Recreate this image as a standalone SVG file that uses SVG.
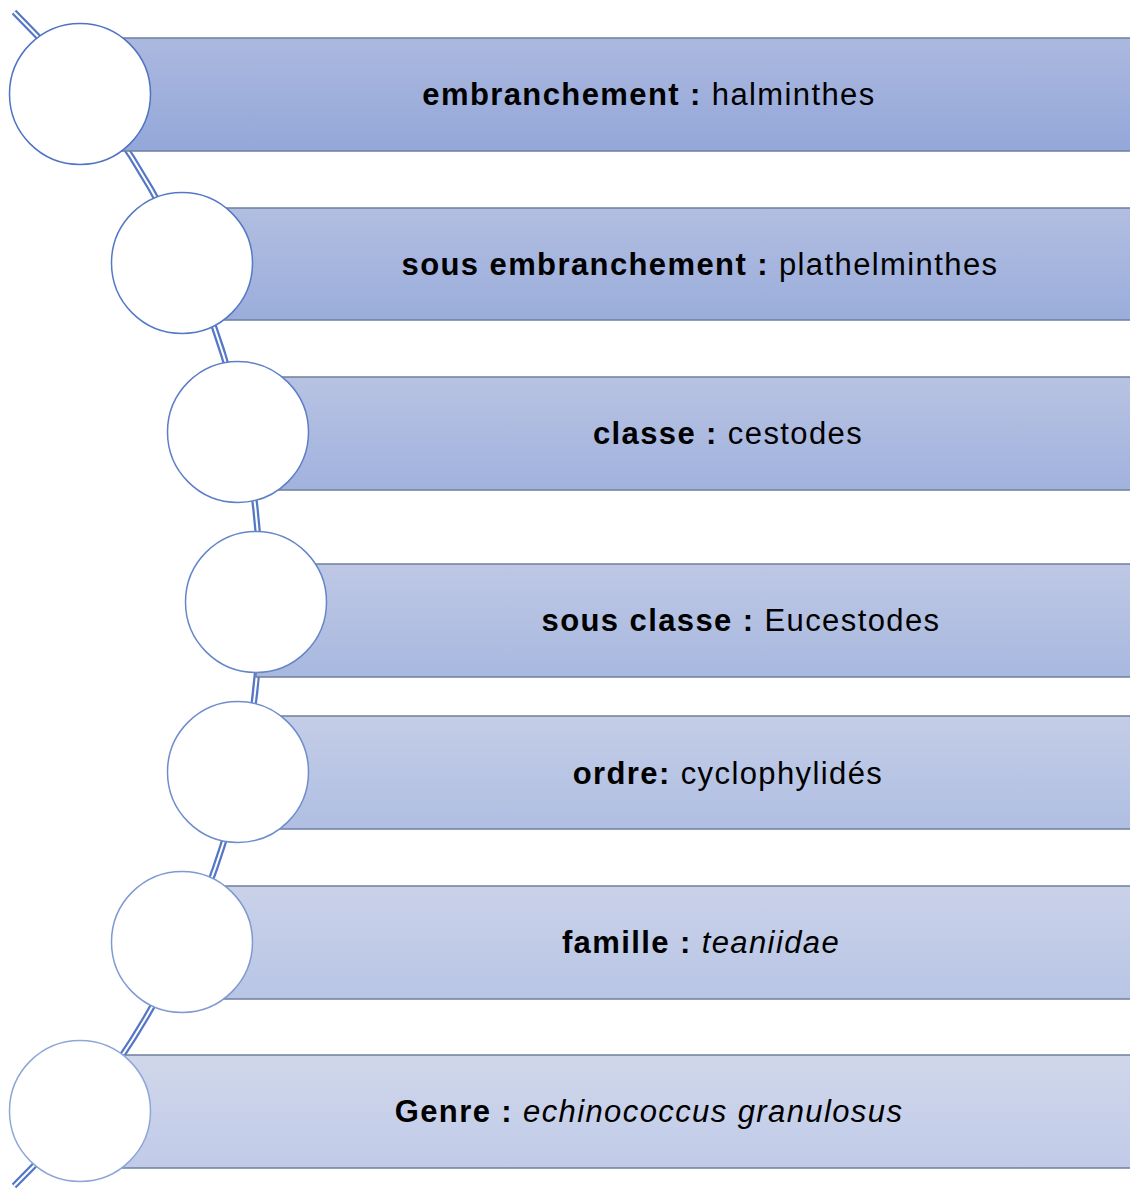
<svg xmlns="http://www.w3.org/2000/svg" width="1130" height="1191" viewBox="0 0 1130 1191">
<defs>
<linearGradient id="g1" x1="0" y1="0" x2="0" y2="1"><stop offset="0" stop-color="#acb9df"/><stop offset="1" stop-color="#93a7d9"/></linearGradient>
<linearGradient id="g2" x1="0" y1="0" x2="0" y2="1"><stop offset="0" stop-color="#b2bee1"/><stop offset="1" stop-color="#9aaddb"/></linearGradient>
<linearGradient id="g3" x1="0" y1="0" x2="0" y2="1"><stop offset="0" stop-color="#b8c3e3"/><stop offset="1" stop-color="#a1b2dd"/></linearGradient>
<linearGradient id="g4" x1="0" y1="0" x2="0" y2="1"><stop offset="0" stop-color="#bec8e5"/><stop offset="1" stop-color="#a8b8df"/></linearGradient>
<linearGradient id="g5" x1="0" y1="0" x2="0" y2="1"><stop offset="0" stop-color="#c4cde7"/><stop offset="1" stop-color="#afbee2"/></linearGradient>
<linearGradient id="g6" x1="0" y1="0" x2="0" y2="1"><stop offset="0" stop-color="#cad2e9"/><stop offset="1" stop-color="#b8c5e5"/></linearGradient>
<linearGradient id="g7" x1="0" y1="0" x2="0" y2="1"><stop offset="0" stop-color="#d0d7eb"/><stop offset="1" stop-color="#c1cbe8"/></linearGradient>
</defs>
<style>
.bar{stroke:#6f7f9f;stroke-width:1.5}
.c{fill:#ffffff;stroke-width:1.5}
.t{font-family:"Liberation Sans",Arial,sans-serif;font-size:31px;letter-spacing:1.4px;fill:#000;text-anchor:middle}
.b{font-weight:bold}
.i{font-style:italic}
.arcO{fill:none;stroke:#5577c6;stroke-width:6.5}
.arcI{fill:none;stroke:#ffffff;stroke-width:2}
</style>
<g id="connectors">
<path class="arcO" d="M 14 12 A 822.6 822.6 0 0 1 14 1186"/>
<path class="arcI" d="M 14 12 A 822.6 822.6 0 0 1 14 1186"/>
</g>
<g id="node1">
<rect class="bar" x="80" y="38" width="1055" height="113" fill="url(#g1)"/>
<circle class="c" cx="80" cy="94" r="70.5" stroke="#4f73c4"/>
<text class="t" x="649" y="105"><tspan class="b">embranchement : </tspan>halminthes</text>
</g>
<g id="node2">
<rect class="bar" x="182" y="208" width="953" height="112" fill="url(#g2)"/>
<circle class="c" cx="182" cy="263" r="70.5" stroke="#5679c6"/>
<text class="t" x="700" y="275"><tspan class="b">sous embranchement : </tspan>plathelminthes</text>
</g>
<g id="node3">
<rect class="bar" x="238" y="377" width="897" height="113" fill="url(#g3)"/>
<circle class="c" cx="238" cy="432" r="70.5" stroke="#5e7fc8"/>
<text class="t" x="728" y="444"><tspan class="b">classe : </tspan>cestodes</text>
</g>
<g id="node4">
<rect class="bar" x="256" y="564" width="879" height="113" fill="url(#g4)"/>
<circle class="c" cx="256" cy="602" r="70.5" stroke="#6686cb"/>
<text class="t" x="741" y="631"><tspan class="b">sous classe : </tspan>Eucestodes</text>
</g>
<g id="node5">
<rect class="bar" x="238" y="716" width="897" height="113" fill="url(#g5)"/>
<circle class="c" cx="238" cy="772" r="70.5" stroke="#6f8dce"/>
<text class="t" x="728" y="784"><tspan class="b">ordre: </tspan>cyclophylidés</text>
</g>
<g id="node6">
<rect class="bar" x="182" y="886" width="953" height="113" fill="url(#g6)"/>
<circle class="c" cx="182" cy="942" r="70.5" stroke="#7f9ad2"/>
<text class="t" x="701" y="953"><tspan class="b">famille : </tspan><tspan class="i">teaniidae</tspan></text>
</g>
<g id="node7">
<rect class="bar" x="80" y="1055" width="1055" height="113" fill="url(#g7)"/>
<circle class="c" cx="80" cy="1111" r="70.5" stroke="#8fa7d8"/>
<text class="t" x="649" y="1122"><tspan class="b">Genre : </tspan><tspan class="i">echinococcus granulosus</tspan></text>
</g>
</svg>
